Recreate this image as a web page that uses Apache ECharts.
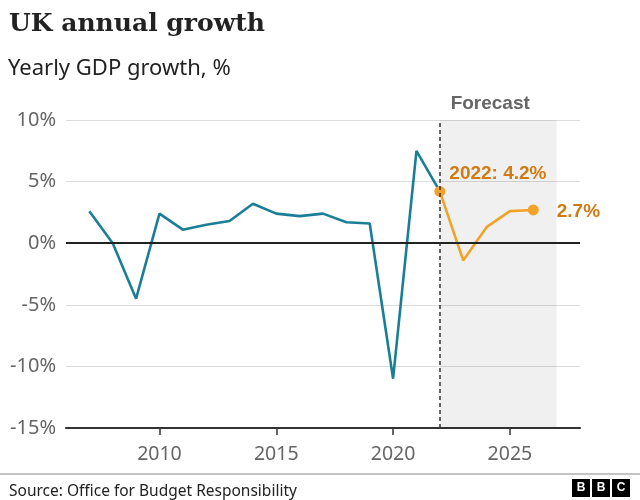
<!DOCTYPE html>
<html><head><meta charset="utf-8">
<script src="https://cdn.jsdelivr.net/npm/echarts@6/dist/echarts.min.js"></script>
<style>html,body{margin:0;padding:0;background:#fff}#c{width:640px;height:500px}</style>
</head><body><div id="c"></div>
<script>
const histYears = [2007,2008,2009,2010,2011,2012,2013,2014,2015,2016,2017,2018,2019,2020,2021,2022];
const histValues = [2.6,0.0,-4.5,2.4,1.1,1.5,1.8,3.2,2.4,2.2,2.4,1.7,1.6,-11.0,7.5,4.2];
const fcYears = [2022,2023,2024,2025,2026];
const fcValues = [4.2,-1.4,1.3,2.6,2.7];
const xTicks = [2010,2015,2020,2025];
const yTicks = [-15,-10,-5,0,5,10];
const forecastStart = 2022, forecastEnd = 2027;

const chart = echarts.init(document.getElementById('c'), null, {renderer:'canvas'});
const sans = 'Noto Sans';
const hist = histYears.map((y,i)=>[y,histValues[i]]);
const fc = fcYears.map((y,i)=>{
  const item = {value:[y,fcValues[i]]};
  if (i===0) {
    item.symbol='circle'; item.symbolSize=11;
    item.label={show:true,position:'right',offset:[-1,-18],formatter:()=>y+': '+fcValues[i].toFixed(1)+'%'};
  } else if (i===fcYears.length-1) {
    item.symbol='circle'; item.symbolSize=11;
    item.label={show:true,position:'right',distance:18,offset:[0,2],formatter:()=>fcValues[i].toFixed(1)+'%'};
  } else { item.symbol='none'; }
  return item;
});
chart.setOption({
  animation:false,
  textStyle:{fontFamily:sans},
  title:[
    {text:'UK annual growth',left:4,top:7,textStyle:{fontFamily:'DejaVu Serif',fontSize:25,fontWeight:'bold',color:'#222'}},
    {text:'Yearly GDP growth, %',left:3,top:53,textStyle:{fontFamily:sans,fontSize:22,fontWeight:'normal',color:'#222'}},
    {text:'Source: Office for Budget Responsibility',left:4,top:479,textStyle:{fontFamily:sans,fontSize:15.5,fontWeight:'normal',color:'#222'}}
  ],
  grid:{left:66,right:60,top:120,bottom:72},
  xAxis:{type:'value',min:2006,max:2028,
    axisLine:{show:true,onZero:false,lineStyle:{color:'#333',width:2}},
    axisTick:{show:true,length:7,lineStyle:{color:'#333',width:1.5},customValues:xTicks},
    axisLabel:{customValues:xTicks,color:'#666',fontSize:19.5,margin:16,fontFamily:sans,formatter:v=>String(v)},
    splitLine:{show:false}},
  yAxis:{type:'value',min:-15,max:10,interval:5,
    axisLine:{show:false},axisTick:{show:false},
    axisLabel:{color:'#666',fontSize:20,margin:10,fontFamily:sans,formatter:v=>v+'%'},
    splitLine:{lineStyle:{color:'#dcdcdc',width:1}}},
  series:[
    {type:'line',data:hist,symbol:'none',lineStyle:{color:'#1a7f96',width:2.6},z:3,
     markLine:{silent:true,symbol:'none',label:{show:false},
       data:[{yAxis:0,lineStyle:{color:'#222',width:2,type:'solid'}}]}},
    {type:'line',data:fc,lineStyle:{color:'#f0a229',width:2.6},itemStyle:{color:'#f0a229'},z:4,
     label:{color:'#d07a14',fontWeight:'bold',fontSize:19,fontFamily:'Liberation Sans'},
     markArea:{silent:true,itemStyle:{color:'rgba(0,0,0,0.06)'},
       label:{show:true,position:'top',distance:7,offset:[-8,0],color:'#666',fontWeight:'bold',fontSize:19,fontFamily:'Liberation Sans'},
       data:[[{name:'Forecast',xAxis:forecastStart},{xAxis:forecastEnd}]]},
     markLine:{silent:true,symbol:'none',label:{show:false},
       data:[{xAxis:forecastStart,lineStyle:{color:'#333',width:1.5,type:[4,3]}}]}}
  ],
  graphic:[
    {type:'line',shape:{x1:0,y1:474,x2:640,y2:474},style:{stroke:'#888',lineWidth:1}},
    ...['B','B','C'].map((t,i)=>({type:'group',left:572+i*20,top:479,children:[
      {type:'rect',shape:{x:0,y:0,width:18,height:18},style:{fill:'#000'}},
      {type:'text',style:{text:t,x:9,y:9,align:'center',verticalAlign:'middle',fill:'#fff',font:'bold 12px Liberation Sans'}}]}))
  ]
});
</script></body></html>
